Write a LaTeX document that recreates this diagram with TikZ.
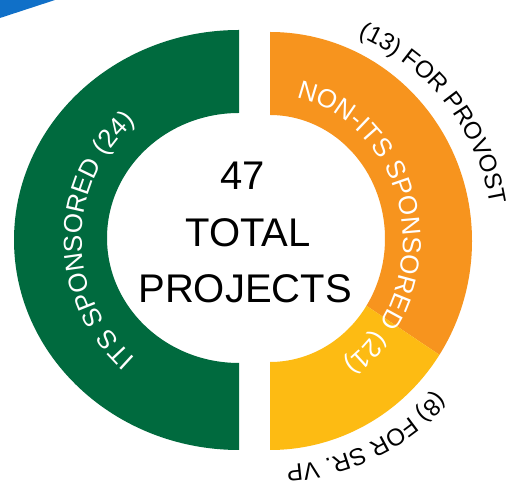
\documentclass[tikz,border=0pt]{standalone}
\usepackage{fontspec}
\setmainfont{Liberation Sans}
\usetikzlibrary{decorations.text}
\definecolor{itsgreen}{RGB}{0,106,62}
\definecolor{provorange}{RGB}{247,148,30}
\definecolor{vpyellow}{RGB}{253,187,19}
\definecolor{cornerblue}{RGB}{16,112,200}
\tikzstyle{centertext} = [anchor=base, inner sep=0pt, font=\fontsize{40}{48}\selectfont]
\tikzstyle{ringtext} = [decorate, decoration={text along path, text align=center, text color=white}]
\tikzstyle{outertext} = [decorate, decoration={text along path, text align=center, text color=black}]
\newcommand{\ringfont}{\fontsize{26}{30}\selectfont}
\newcommand{\outerfont}{\fontsize{24}{28}\selectfont}

\begin{document}
\begin{tikzpicture}[x=1pt, y=1pt]
    \useasboundingbox (0,0) rectangle (524,497);
    \fill[white] (0,0) rectangle (524,497);

    % ring centres
    \coordinate (gc) at (239,257);
    \coordinate (gi) at (239,259);
    \coordinate (oc) at (270,256);
    \coordinate (ic) at (270,258.5);

    \fill[cornerblue] (0,497) -- (55,497) -- (0,479) -- cycle;

    % ITS half
    \fill[itsgreen] ([shift={(90:225 and 210)}]gc) arc[start angle=90, end angle=270, x radius=225, y radius=210]
        -- ([shift={(270:132 and 125)}]gi) arc[start angle=270, end angle=90, x radius=132, y radius=125] -- cycle;

    % non-ITS half, provost part
    \fill[provorange] ([shift={(90:202 and 209)}]oc) arc[start angle=90, end angle=-33, x radius=202, y radius=209]
        -- ([shift={(-33:115 and 123.5)}]ic) arc[start angle=-33, end angle=90, x radius=115, y radius=123.5] -- cycle;

    % non-ITS half, sr. vp part
    \fill[vpyellow] ([shift={(-33:202 and 209)}]oc) arc[start angle=-33, end angle=-90, x radius=202, y radius=209]
        -- ([shift={(-90:115 and 123.5)}]ic) arc[start angle=-90, end angle=-33, x radius=115, y radius=123.5] -- cycle;

    \node (count) [centertext] at (243,307) {47};
    \node (total) [centertext] at (248,250) {TOTAL};
    \node (projects) [centertext] at (245,194) {PROJECTS};

    \path[ringtext, decoration={text={|\ringfont|ITS SPONSORED (24)}}]
        ([shift={(232:157)}]gc) arc[start angle=232, end angle=128, radius=157];
    \path[ringtext, decoration={text={|\ringfont|NON-ITS SPONSORED (21)}}]
        ([shift={(82:133 and 146)}]oc) arc[start angle=82, end angle=-60, x radius=133, y radius=146];

    \path[outertext, decoration={text={|\outerfont|(13) FOR PROVOST}}]
        ([shift={(72:223)}]oc) arc[start angle=72, end angle=4, radius=223];
    \path[outertext, decoration={text={|\outerfont|(8) FOR SR. VP}}]
        ([shift={(-37:225)}]oc) arc[start angle=-37, end angle=-91, radius=225];

\end{tikzpicture}
\end{document}
